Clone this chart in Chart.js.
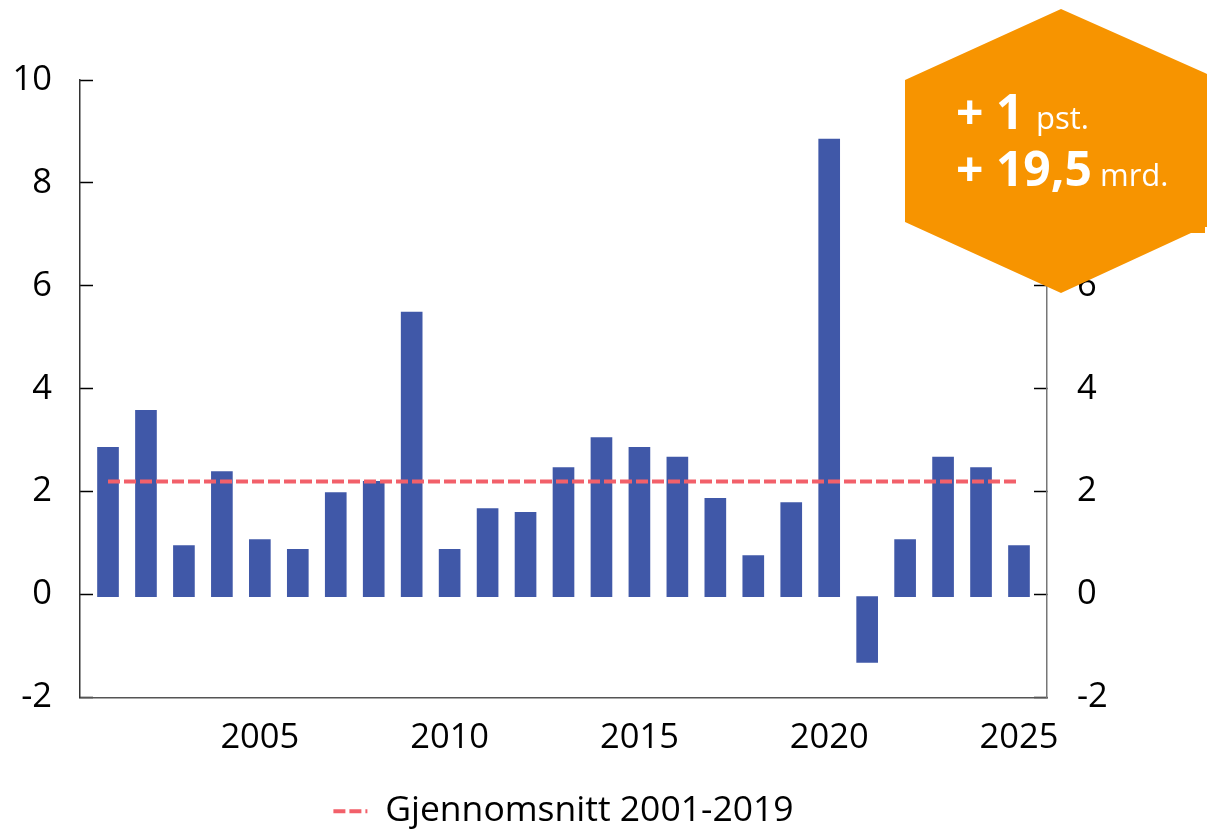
<!DOCTYPE html>
<html><head><meta charset="utf-8">
<style>html,body{margin:0;padding:0;background:#fff}#w{width:1207px;height:829px;position:relative}</style>
<script src="https://cdn.jsdelivr.net/npm/chart.js@4"></script>
</head><body><div id="w"><canvas id="c" width="1207" height="829"></canvas></div>
<script>
const years = [2001,2002,2003,2004,2005,2006,2007,2008,2009,2010,2011,2012,2013,2014,2015,2016,2017,2018,2019,2020,2021,2022,2023,2024,2025];
const growth = [2.86,3.58,0.95,2.39,1.07,0.88,1.98,2.2,5.49,0.88,1.67,1.6,2.47,3.05,2.86,2.67,1.87,0.76,1.79,8.85,-1.32,1.07,2.67,2.47,0.95];
const averageValue = 2.2;
const xTicks = [2005,2010,2015,2020,2025];
const yTicks = [-2,0,2,4,6,8,10];
const legendLabel = 'Gjennomsnitt 2001-2019';
const FONT = '"Open Sans"';
const badge = {
  line1: ['+ 1','pst.'],
  line2: ['+ 19,5','mrd.']
};
const fixedY = s => { s.ticks = yTicks.map(v => ({value:v})); };
const badgePlugin = {
  id:'badge',
  afterDraw(ch){
    const c = ch.ctx; c.save();
    c.fillStyle = '#F79400';
    const p = [[1061,9],[1205,73],[1207,74],[1207,227],[1205,227],[1205,233],[1191,233],[1061,293],[905,222],[905,80]];
    c.beginPath(); p.forEach((q,i)=> i?c.lineTo(q[0],q[1]):c.moveTo(q[0],q[1])); c.closePath(); c.fill();
    c.fillStyle='#fff'; c.textBaseline='alphabetic'; c.textAlign='left';
    c.font='bold 48px '+FONT; c.fillText(badge.line1[0],956,129);
    c.fillText(badge.line2[0],956,186);
    c.font='31px '+FONT; c.fillText(badge.line1[1],1036,129); c.fillText(badge.line2[1],1100,186);
    c.restore();
  }
};
new Chart(document.getElementById('c'),{
  data:{
    datasets:[
      {type:'line',label:legendLabel,data:years.map(y=>({x:y,y:averageValue})),borderColor:'#F2606A',borderWidth:4,borderDash:[12,4],pointRadius:0,order:0,yAxisID:'y',xAxisID:'x'},
      {type:'bar',label:'Vekst',data:years.map((y,i)=>({x:y,y:growth[i]})),backgroundColor:'#4058A8',barThickness:21,base:-0.04,order:1,yAxisID:'y',xAxisID:'x'}
    ]
  },
  options:{
    responsive:false,animation:false,
    layout:{padding:{top:80,left:0,right:0,bottom:-10}},
    plugins:{
      tooltip:{enabled:false},
      title:{display:false},
      legend:{display:true,position:'bottom',fullSize:false,
        labels:{filter:i=>{ if(i.datasetIndex===0){i.lineDash=[12,4];i.lineWidth=4;i.strokeStyle='#F2606A';} return i.datasetIndex===0; },usePointStyle:true,pointStyle:'line',pointStyleWidth:34,boxHeight:20,color:'#000',font:{family:FONT,size:35.5},padding:2}}
    },
    scales:{
      x:{type:'linear',position:'bottom',offset:false,min:2001-0.738,max:2025+0.738,
        afterBuildTicks:s=>{s.ticks=xTicks.map(v=>({value:v}));},
        afterFit:s=>{s.height=94;},
        border:{color:'#555',width:1.5},
        grid:{drawOnChartArea:false,drawTicks:false,offset:false},
        ticks:{color:'#000',font:{family:FONT,size:34.5},padding:20,maxRotation:0,autoSkip:false,callback:v=>String(v)}},
      y:{type:'linear',position:'left',min:-2,max:10,
        afterBuildTicks:fixedY,afterFit:s=>{s.width=80;},
        border:{color:'#333',width:1.5},
        grid:{drawOnChartArea:false,tickLength:-13,tickColor:'#000',tickWidth:1.5},
        ticks:{color:'#000',font:{family:FONT,size:34.5},padding:41,autoSkip:false}},
      y2:{type:'linear',position:'right',min:-2,max:10,
        afterBuildTicks:fixedY,afterFit:s=>{s.width=160;},
        border:{color:'#777',width:1.5},
        grid:{drawOnChartArea:false,tickLength:-13,tickColor:'#000',tickWidth:1.5},
        ticks:{color:'#000',font:{family:FONT,size:34.5},padding:43,autoSkip:false}}
    }
  },
  plugins:[badgePlugin]
});
</script></body></html>
